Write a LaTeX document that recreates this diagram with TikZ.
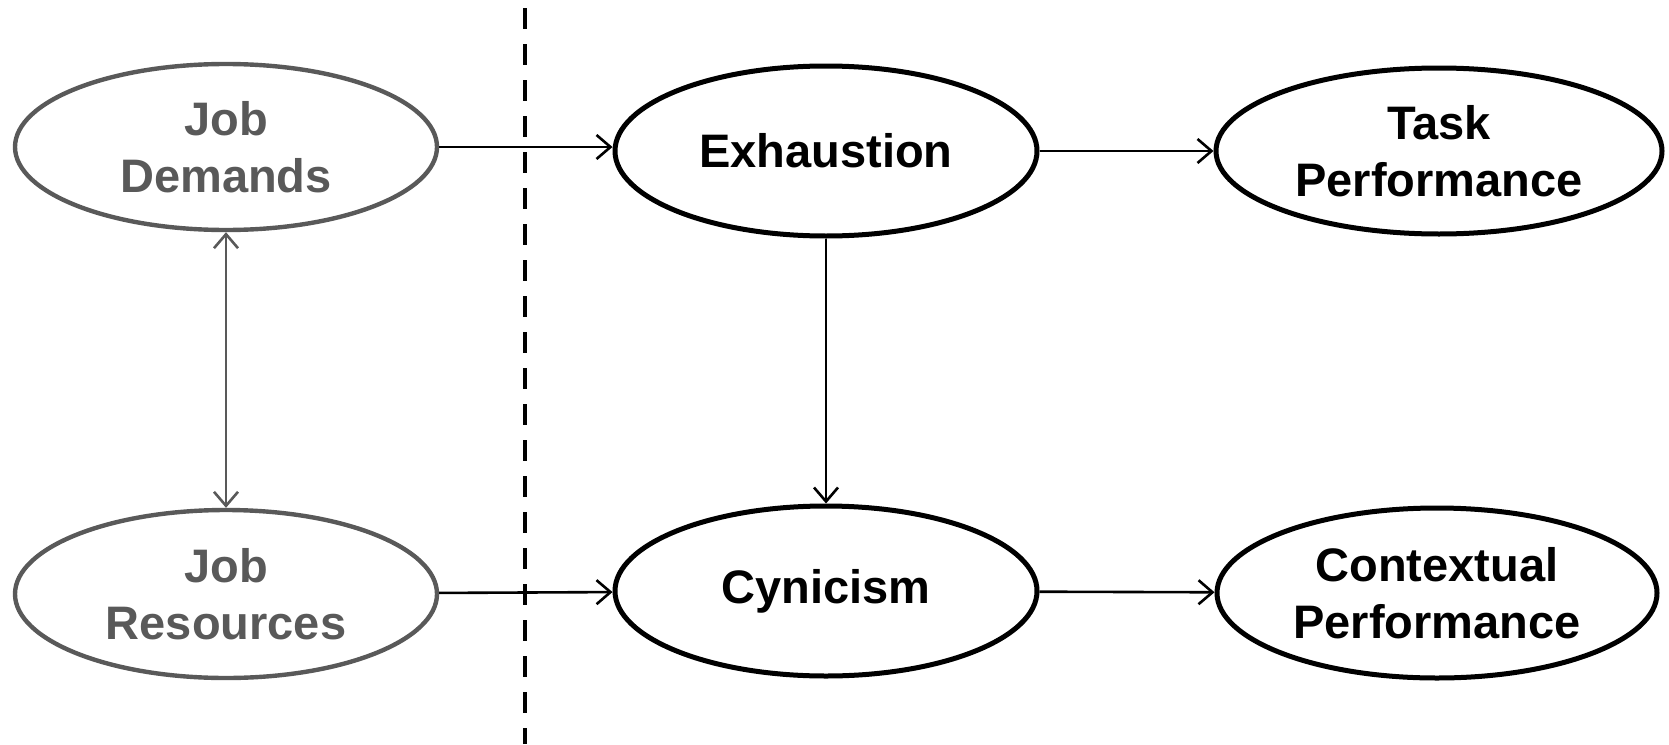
\documentclass[tikz,border=0pt]{standalone}
\usepackage{fontspec}
\setmainfont{Liberation Sans}
\usetikzlibrary{shapes.geometric,arrows.meta}
\definecolor{grayc}{HTML}{595959}
\tikzset{
  blk/.style={ellipse,draw=black,line width=2.5pt,inner sep=0pt,align=center,
    font=\bfseries\fontsize{23.5}{28.5}\selectfont},
  gry/.style={blk,draw=grayc,line width=2.2pt,text=grayc},
  tip/.style={Straight Barb[length=7pt,width=12pt,line width=1.3pt]},
  arr/.style={line width=1.3pt,-{Straight Barb[length=7pt,width=12pt,line width=1.3pt]}},
  garr/.style={line width=1.3pt,draw=grayc,{Straight Barb[length=7pt,width=12pt,line width=1.3pt]}-{Straight Barb[length=7pt,width=12pt,line width=1.3pt]}},
  divider/.style={line width=1.8pt,dash pattern=on 10.5pt off 7.5pt}
}
\begin{document}
\begin{tikzpicture}[x=0.5pt,y=-0.5pt]
\useasboundingbox (0,0) rectangle (1669,744);
\node[gry,minimum width=422pt*0.5,minimum height=166pt*0.5] (jd) at (226,147) {Job\\Demands};
\node[gry,minimum width=422pt*0.5,minimum height=168pt*0.5] (jr) at (226,594) {Job\\Resources};
\node[blk,minimum width=422pt*0.5,minimum height=170pt*0.5] (ex) at (826,151) {Exhaustion};
\node[blk,minimum width=446pt*0.5,minimum height=166pt*0.5] (tp) at (1439,151) {Task\\Performance};
\node[blk,minimum width=422pt*0.5,minimum height=170pt*0.5] (cy) at (826,591) {Cynicism};
\node[blk,minimum width=440pt*0.5,minimum height=170pt*0.5] (cp) at (1437,593) {Contextual\\Performance};
\coordinate (dtop) at (525,8);
\coordinate (dbot) at (525,744);
\draw[divider] (dtop) -- (dbot);
\draw[arr] (jd.east) -- (jd.east -| ex.west);
\draw[arr] (ex) -- (tp);
\draw[arr] (ex) -- (cy);
\draw[arr] (jr) -- (cy);
\draw[arr] (cy) -- (cp);
\draw[garr] (jd) -- (jr);
\end{tikzpicture}
\end{document}
